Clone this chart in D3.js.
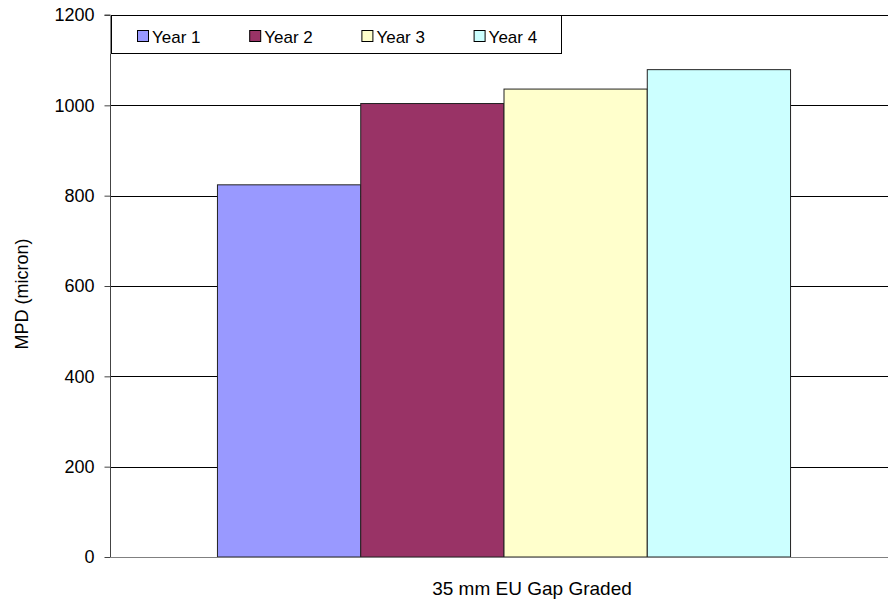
<!DOCTYPE html>
<html><head><meta charset="utf-8">
<script src="https://cdn.jsdelivr.net/npm/d3@7"></script>
<style>body{margin:0;background:#fff}svg{display:block;font-family:"Liberation Sans",Arial,sans-serif}</style>
</head><body><svg id="c" width="888" height="603"></svg>
<script>
const categories = ["35 mm EU Gap Graded"];
const seriesNames = ["Year 1", "Year 2", "Year 3", "Year 4"];
const seriesValues = [824, 1004, 1036, 1079];
const seriesColors = ["#9999FF", "#993366", "#FFFFCC", "#CCFFFF"];
const yTicks = [0, 200, 400, 600, 800, 1000, 1200];
const yTitle = "MPD (micron)";

(function () {
const svg = d3.select("#c");
const pL = 110, pR = 898, pT = 15, pB = 557;
const y = d3.scaleLinear().domain([0, 1200]).range([pB, pT]);
const x0 = d3.scaleBand().domain(categories).range([pL, pR]).paddingInner(0).paddingOuter(0);
// gap width 150% => bars occupy 4/(4+1.5) of band
const gw = x0.bandwidth() * 4 / 5.5;
const x1 = d3.scaleBand().domain(seriesNames).range([0, gw]);
const off = (x0.bandwidth() - gw) / 2;

// gridlines
svg.append("g").selectAll("line").data(yTicks.filter(d => d > 0)).join("line")
  .attr("x1", pL).attr("x2", pR).attr("y1", d => Math.round(y(d)) + 0.5).attr("y2", d => Math.round(y(d)) + 0.5)
  .attr("stroke", "#000").attr("stroke-width", 1);

// bars
const g = svg.append("g");
categories.forEach(c => {
  g.selectAll("rect.b").data(seriesValues).join("rect").attr("class", "b")
    .attr("x", (d, i) => x0(c) + off + x1(seriesNames[i]))
    .attr("y", d => y(d))
    .attr("width", x1.bandwidth())
    .attr("height", d => pB - y(d))
    .attr("fill", (d, i) => seriesColors[i])
    .attr("stroke", "#222").attr("stroke-width", 1);
});

// y axis
const ya = d3.axisLeft(y).tickValues(yTicks).tickSize(6).tickPadding(10).tickFormat(d3.format("d"));
const ag = svg.append("g").attr("transform", `translate(${pL + 0.5},0)`).call(ya);
ag.select(".domain").attr("stroke", "#444").attr("d", `M-6,${pT}H0V${pB}`);
ag.selectAll(".tick line").attr("stroke", "#444");
ag.selectAll(".tick text").attr("font-size", 18).attr("fill", "#000").attr("font-family", "Liberation Sans, Arial, sans-serif");

// baseline
svg.append("line").attr("x1", pL).attr("x2", pR).attr("y1", pB + 0.5).attr("y2", pB + 0.5)
  .attr("stroke", "#808080").attr("stroke-width", 1);

// axis titles
svg.append("text").attr("transform", `translate(28,294) rotate(-90)`).attr("text-anchor", "middle")
  .attr("font-size", 18).text(yTitle);
svg.append("text").attr("x", 532).attr("y", 595).attr("text-anchor", "middle")
  .attr("font-size", 19).text(categories[0]);

// legend
const lg = svg.append("g");
lg.append("rect").attr("x", 111.5).attr("y", 15.5).attr("width", 450).attr("height", 38)
  .attr("fill", "#fff").attr("stroke", "#000").attr("stroke-width", 1);
lg.append("line").attr("x1", 110.5).attr("x2", 110.5).attr("y1", 15).attr("y2", 54).attr("stroke", "#888");
const items = lg.selectAll("g.it").data(seriesNames).join("g").attr("class", "it")
  .attr("transform", (d, i) => `translate(${137 + i * 112.2},0)`);
items.append("rect").attr("x", 0.5).attr("y", 30.5).attr("width", 11).attr("height", 11)
  .attr("fill", (d, i) => seriesColors[i]).attr("stroke", "#000");
items.append("text").attr("x", 15).attr("y", 42.5).attr("font-size", 17).text(d => d);
})();
</script></body></html>
